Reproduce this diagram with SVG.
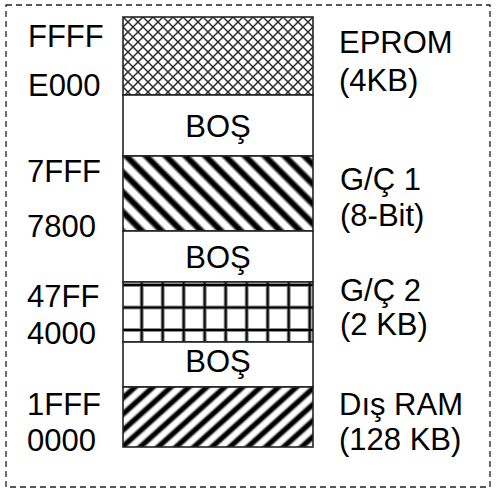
<svg xmlns="http://www.w3.org/2000/svg" width="496" height="490" viewBox="0 0 496 490">
  <style>
    text { font-family: "Liberation Sans", Arial, sans-serif; font-size: 31px; fill: #000; }
    .lab { text-anchor: start; }
    .mid { text-anchor: middle; }
    .box { stroke: #222; stroke-width: 1.6; }
  </style>
  <defs>
    <pattern id="cross" patternUnits="userSpaceOnUse" x="123" y="17" width="10" height="10">
      <rect width="10" height="10" fill="#fff"/>
      <path d="M0,0 L10,10 M10,0 L0,10" stroke="#2a2a2a" stroke-width="1.45" fill="none"/>
      <path d="M-1,9 L1,11 M9,-1 L11,1 M-1,1 L1,-1 M9,11 L11,9" stroke="#2a2a2a" stroke-width="1.45" fill="none"/>
    </pattern>
    <linearGradient id="stripeGrad" x1="0" y1="0" x2="1" y2="0">
      <stop offset="0" stop-color="#fff"/>
      <stop offset="0.18" stop-color="#fff"/>
      <stop offset="0.38" stop-color="#000"/>
      <stop offset="0.62" stop-color="#000"/>
      <stop offset="0.82" stop-color="#fff"/>
      <stop offset="1" stop-color="#fff"/>
    </linearGradient>
    <pattern id="back" patternUnits="userSpaceOnUse" width="14" height="14" patternTransform="rotate(-45)">
      <rect width="14" height="14" fill="url(#stripeGrad)"/>
    </pattern>
    <pattern id="fwd" patternUnits="userSpaceOnUse" width="12" height="12" patternTransform="rotate(48)">
      <rect width="12" height="12" fill="url(#stripeGrad)"/>
    </pattern>
    <pattern id="grid" patternUnits="userSpaceOnUse" x="120.7" y="285" width="21" height="22.5">
      <rect width="21" height="22.5" fill="#fff"/>
      <path d="M0,0 V22.5 M21,0 V22.5 M0,0 H21 M0,22.5 H21" stroke="#888" stroke-width="4" fill="none"/>
      <path d="M0,0 V22.5 M21,0 V22.5 M0,0 H21 M0,22.5 H21" stroke="#000" stroke-width="1.8" fill="none"/>
    </pattern>
  </defs>

  <rect id="frame" x="6" y="5" width="484" height="482" fill="#fff" stroke="#222" stroke-width="1.3" stroke-dasharray="6,4"/>

  <g id="eprom">
    <rect class="box" x="123" y="17" width="190" height="78" fill="url(#cross)"/>
    <text class="lab" x="28" y="47">FFFF</text>
    <text class="lab" x="28" y="96">E000</text>
    <text class="lab" x="339" y="53">EPROM</text>
    <text class="lab" x="339" y="91">(4KB)</text>
  </g>

  <g id="bos1">
    <rect class="box" x="123" y="95" width="190" height="61" fill="#fff"/>
    <text class="mid" x="218" y="137">BOŞ</text>
  </g>

  <g id="gc1">
    <rect class="box" x="123" y="156" width="190" height="75" fill="url(#back)"/>
    <text class="lab" x="27" y="182">7FFF</text>
    <text class="lab" x="27" y="237">7800</text>
    <text class="lab" x="340" y="190">G/Ç 1</text>
    <text class="lab" x="340" y="226">(8-Bit)</text>
  </g>

  <g id="bos2">
    <rect class="box" x="123" y="231" width="190" height="51" fill="#fff"/>
    <text class="mid" x="218" y="268">BOŞ</text>
  </g>

  <g id="gc2">
    <rect class="box" x="123" y="282" width="190" height="60" fill="url(#grid)"/>
    <text class="lab" x="27" y="307">47FF</text>
    <text class="lab" x="27" y="344">4000</text>
    <text class="lab" x="340" y="301">G/Ç 2</text>
    <text class="lab" x="340" y="335">(2 KB)</text>
  </g>

  <g id="bos3">
    <rect class="box" x="123" y="342" width="190" height="45" fill="#fff"/>
    <text class="mid" x="218" y="372">BOŞ</text>
  </g>

  <g id="ram">
    <rect class="box" x="123" y="387" width="190" height="60" fill="url(#fwd)"/>
    <text class="lab" x="27" y="415">1FFF</text>
    <text class="lab" x="27" y="451">0000</text>
    <text class="lab" x="339" y="415">Dış RAM</text>
    <text class="lab" x="339" y="450">(128 KB)</text>
  </g>
</svg>
